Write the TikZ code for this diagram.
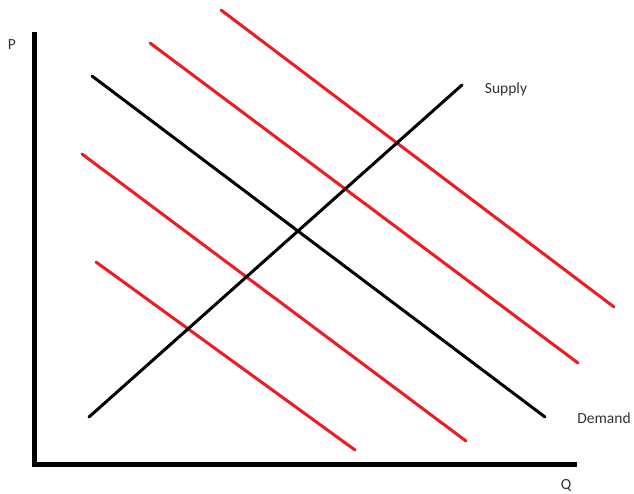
\documentclass[tikz,border=0pt]{standalone}
\usepackage{fontspec}
\setmainfont{Carlito}
\definecolor{pred}{RGB}{237,28,36}
\begin{document}
\begin{tikzpicture}[x=1pt,y=-1pt,
  axisline/.style={line width=5pt},
  curveline/.style={line width=3pt,line cap=round},
  redline/.style={line width=3pt,color=pred,line cap=round},
  lbl/.style={font=\fontsize{15.5}{18}\selectfont,color=black!80,anchor=base,inner sep=0pt}]
\useasboundingbox (0,0) rectangle (634,493);
\coordinate (ytop) at (34,32);
\coordinate (orig) at (34,464.5);
\coordinate (xend) at (577,464.5);
\draw[axisline] (ytop) -- (orig) -- (xend);
% red shifted demand curves
\coordinate (r1a) at (221,10); \coordinate (r1b) at (614,307);
\coordinate (r2a) at (150,43); \coordinate (r2b) at (578,363);
\coordinate (r3a) at (82,154); \coordinate (r3b) at (466,441);
\coordinate (r4a) at (96,262); \coordinate (r4b) at (355,450);
\draw[redline] (r1a) -- (r1b);
\draw[redline] (r2a) -- (r2b);
\draw[redline] (r3a) -- (r3b);
\draw[redline] (r4a) -- (r4b);
% supply and demand
\coordinate (sa) at (89,417); \coordinate (sb) at (462,85);
\coordinate (da) at (92,76); \coordinate (db) at (545,417);
\draw[curveline] (sa) -- (sb);
\draw[curveline] (da) -- (db);
\node[lbl] (P) at (12,49) {P};
\node[lbl] (Q) at (566,489) {Q};
\node[lbl] (supply) at (506,93) {Supply};
\node[lbl] (demand) at (604,423) {Demand};
\end{tikzpicture}
\end{document}
